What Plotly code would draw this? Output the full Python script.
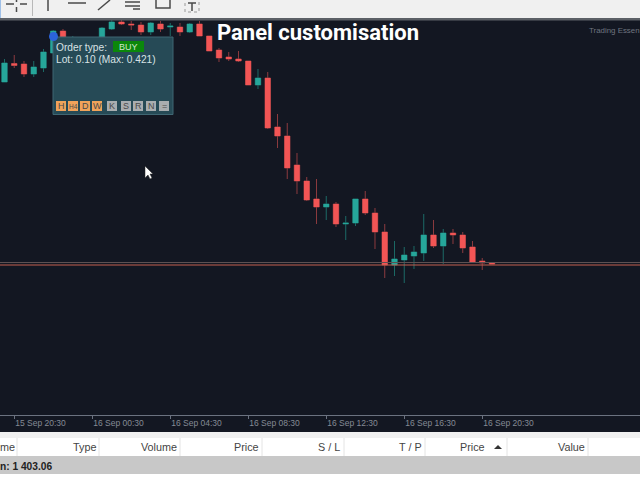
import pandas as pd
import plotly.graph_objects as go

# 30 minute candles, levels are chart units
opens = [333, 351.5, 351, 341, 347, 362, 384, 370, 371, 367, 378, 386, 393, 391, 390, 383, 391, 388, 388, 383,
         391, 379, 365, 358, 356, 354, 330, 337, 288, 279, 250, 234, 216, 208, 211, 191, 192, 216, 202, 183,
         150, 155, 159, 162, 180, 169, 182, 180, 168, 154, 152]
closes = [352, 349.5, 341, 348, 363, 384, 378, 377, 365, 377, 387, 393, 391, 390, 383, 392, 386, 389, 383, 391,
          379, 364, 357, 356, 354, 330, 337, 287, 279, 247, 234, 215, 208, 211, 191, 192, 216, 202, 183, 150,
          156, 160, 163, 180, 169, 182, 180, 167, 153, 152, 151]
highs = [356, 360, 354, 354, 366, 385, 386, 379, 373, 378, 388, 395, 395, 394, 393, 393, 394, 392, 392, 392,
         394, 379, 367, 363, 364, 354, 346, 343, 301, 292, 262, 238, 236, 219, 213, 199, 216, 224, 207, 191,
         174, 168, 169, 201, 195, 186, 186, 183, 174, 157, 152]
lows = [333, 347, 338, 338, 343, 362, 377, 368, 362, 365, 376, 385, 390, 385, 380, 380, 383, 379, 379, 382,
        379, 364, 353, 354, 353, 330, 326, 286, 267, 236, 221, 214, 191, 195, 188, 175, 189, 200, 166, 137,
        139, 132, 146, 154, 167, 151, 171, 162, 153, 145, 151]
times = pd.date_range("2020-09-15 20:00", periods=len(opens), freq="30min")

tick_times = ["2020-09-15 20:30", "2020-09-16 00:30", "2020-09-16 04:30", "2020-09-16 08:30",
              "2020-09-16 12:30", "2020-09-16 16:30", "2020-09-16 20:30"]
tick_labels = ["15 Sep 20:30", "16 Sep 00:30", "16 Sep 04:30", "16 Sep 08:30",
               "16 Sep 12:30", "16 Sep 16:30", "16 Sep 20:30"]
ask_level = 152.5
bid_level = 150

headers = ["me", "Type", "Volume", "Price", "S / L", "T / P", "Price", "Value"]
header_right = [17, 98, 179, 261, 342, 424, 487, 587]
header_seps = [17, 99, 180, 262, 344, 425, 507, 588]

tf_buttons = [("H", 56, 66), ("H4", 68, 78), ("D", 80, 90), ("W", 92, 102)]
tool_buttons = [("K", 107, 117), ("S", 121, 131), ("R", 133, 143), ("N", 146, 156), ("=", 159, 169)]

BG = "#131722"
RED = "#f25555"
TEAL = "#26a69a"
FONT = "Liberation Sans"


def px(x):
    return x / 640


def py(y):
    return 1 - y / 480


def rect(x0, y0, x1, y1, fill, line=None):
    return dict(type="rect", xref="paper", yref="paper", x0=px(x0), x1=px(x1), y0=py(y0), y1=py(y1),
                fillcolor=fill, line=dict(color=line or fill, width=1 if line else 0))


def seg(x0, y0, x1, y1, color="#4a4a4a", width=1.5):
    return dict(type="line", xref="paper", yref="paper", x0=px(x0), x1=px(x1), y0=py(y0), y1=py(y1),
                line=dict(color=color, width=width))


def label(x, y, text, size=10.2, color="#d8e2e4", anchor="left", family=FONT, bold=False):
    if bold:
        text = "<b>" + text + "</b>"
    return dict(xref="paper", yref="paper", x=px(x), y=py(y), text=text, showarrow=False, xanchor=anchor,
                yanchor="middle", font=dict(family=family, size=size, color=color))


fig = go.Figure()

# wicks + dark outline
fig.add_trace(go.Candlestick(x=times, open=opens, close=closes, high=highs, low=lows,
                             increasing=dict(line=dict(color="#1c6a66", width=1), fillcolor="#1c6a66"),
                             decreasing=dict(line=dict(color="#8c3b3f", width=1), fillcolor="#8c3b3f"),
                             showlegend=False))
# bright bodies on top
body_high = [max(o, c) for o, c in zip(opens, closes)]
body_low = [min(o, c) for o, c in zip(opens, closes)]
fig.add_trace(go.Candlestick(x=times, open=opens, close=closes, high=body_high, low=body_low,
                             increasing=dict(line=dict(color=TEAL, width=0), fillcolor=TEAL),
                             decreasing=dict(line=dict(color=RED, width=0), fillcolor=RED),
                             showlegend=False))

shapes = []
# bid / ask lines
shapes.append(dict(type="line", xref="paper", yref="y", x0=0, x1=1, y0=ask_level, y1=ask_level,
                   line=dict(color="#5d5152", width=1)))
shapes.append(dict(type="line", xref="paper", yref="y", x0=0, x1=1, y0=bid_level, y1=bid_level,
                   line=dict(color="#c4604f", width=1)))

# toolbar
shapes.append(rect(0, 0, 640, 18, "#f0f0f0"))
shapes.append(rect(0, 18, 640, 20.5, "#5c6066"))
shapes.append(seg(0, 0, 0, 18, "#9fc0e8", 2))
shapes += [seg(6, 4, 14, 4), seg(20, 4, 27, 4), seg(16.5, 0, 16.5, 2), seg(16.5, 7, 16.5, 12)]
shapes.append(seg(32.5, 0, 32.5, 16, "#b8b8b8", 1))
shapes += [seg(48, 0, 48, 11), seg(68, 3, 86, 3), seg(98, 10, 110, 0)]
shapes += [seg(125, 2, 140, 2), seg(125, 6, 140, 6), seg(133, 9, 140, 9)]
shapes.append(dict(type="rect", xref="paper", yref="paper", x0=px(156), x1=px(170), y0=py(-2), y1=py(8),
                   line=dict(color="#4a4a4a", width=1.5)))
shapes.append(dict(type="rect", xref="paper", yref="paper", x0=px(185), x1=px(199), y0=py(-2), y1=py(12),
                   line=dict(color="#9a9a9a", width=1, dash="dot")))
shapes += [seg(188, 3, 196, 3), seg(192, 3, 192, 11)]

# bottom table
shapes.append(rect(0, 432, 640, 480, "#f0f0f0"))
shapes.append(rect(0, 438, 640, 456, "#ffffff"))
shapes.append(rect(0, 456, 640, 474, "#c8c8c8"))
shapes.append(rect(0, 474, 640, 480, "#ffffff"))
for s in header_seps:
    shapes.append(seg(s, 438, s, 456, "#e4e4e4", 1))
shapes.append(dict(type="path", xref="paper", yref="paper", line=dict(width=0), fillcolor="#333333",
                   path="M %f %f L %f %f L %f %f Z" % (px(494), py(449), px(502), py(449), px(498), py(445))))

# order panel
shapes.append(rect(53, 37, 173, 114.5, "#264a56", "#3f6673"))
shapes.append(rect(113, 41, 144, 52, "#0b870b"))
for _, x0, x1 in tf_buttons:
    shapes.append(rect(x0, 101, x1, 111, "#f0a35a"))
for _, x0, x1 in tool_buttons:
    shapes.append(rect(x0, 101, x1, 111, "#a9adb0"))
shapes.append(dict(type="circle", xref="paper", yref="paper", x0=px(49), x1=px(58), y0=py(32), y1=py(41),
                   fillcolor="#2b63d9", line=dict(width=0)))

# mouse cursor
cursor = [(145, 166), (145, 178), (148, 175), (150, 179), (152, 178), (150, 174), (153, 174)]
shapes.append(dict(type="path", xref="paper", yref="paper", fillcolor="#ffffff",
                   line=dict(color="#222222", width=0.5),
                   path="M " + " L ".join("%f %f" % (px(a), py(b)) for a, b in cursor) + " Z"))

notes = [
    label(215, 33, "Panel customisation", size=22, color="#ffffff", family="Roboto", bold=True),
    label(586.5, 31, "Trading Essen", size=7.9, color="#6f7580"),
    label(54, 48, "Order type:"),
    label(54, 59.5, "Lot: 0.10 (Max: 0.421)"),
    label(128.5, 46.5, "BUY", size=9, color="#cfe8cf", anchor="center"),
    label(-2, 466, "n: 1 403.06", size=10.2, color="#222222", bold=True),
]
for text, x0, x1 in tf_buttons + tool_buttons:
    notes.append(label((x0 + x1) / 2, 106, text, size=9 if text != "H4" else 6.5, color="#4a4a4a", anchor="center"))
for text, x in zip(headers, header_right):
    notes.append(label(x, 447, text, size=10.8, color="#444444", anchor="right"))

fig.update_layout(
    width=640, height=480,
    margin=dict(l=0, r=0, t=0, b=0),
    paper_bgcolor=BG, plot_bgcolor=BG,
    showlegend=False, boxgap=0.2,
    shapes=shapes, annotations=notes,
    xaxis=dict(type="date", range=["2020-09-15 19:46:12", "2020-09-17 04:35:24"],
               rangeslider=dict(visible=False),
               tickvals=tick_times, ticktext=tick_labels, ticklabelposition="outside right",
               ticks="outside", ticklen=3, tickcolor="#6b7280", showgrid=False, zeroline=False,
               showline=True, linecolor="#6b7280", linewidth=1,
               tickfont=dict(family=FONT, size=8.5, color="#858b95")),
    yaxis=dict(domain=[65 / 480, 461 / 480], range=[0, 396], showgrid=False, zeroline=False,
               showticklabels=False, ticks=""),
)

# page has a default body margin, drop it so the figure fills the window
fig.write_html("out.html", config={"displayModeBar": False},
               post_script="document.body.style.margin='0';document.body.style.overflow='hidden';")
